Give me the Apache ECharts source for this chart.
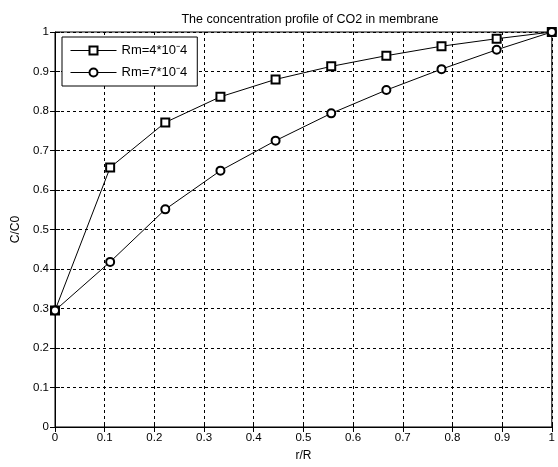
<!DOCTYPE html>
<html>
<head>
<meta charset="utf-8">
<script src="https://cdn.jsdelivr.net/npm/echarts@6/dist/echarts.min.js"></script>
<style>
  html, body { margin: 0; padding: 0; background: #fff; }
  #chart { width: 558px; height: 467px; }
</style>
</head>
<body>
<div id="chart"></div>
<script>
// r/R positions (10 points from 0 to 1)
var rR = [0, 0.111, 0.222, 0.333, 0.444, 0.556, 0.667, 0.778, 0.889, 1];
// C/C0 for each membrane resistance
var rm4 = [0.295, 0.657, 0.771, 0.836, 0.880, 0.913, 0.940, 0.964, 0.983, 1.0];
var rm7 = [0.295, 0.418, 0.551, 0.649, 0.725, 0.794, 0.853, 0.906, 0.955, 1.0];
var seriesNames = ['Rm=4*10\u207B4', 'Rm=7*10\u207B4'];

function pairs(xs, ys) {
    return xs.map(function (x, i) { return [x, ys[i]]; });
}

var font = 'Liberation Sans, Arial, sans-serif';
var chart = echarts.init(document.getElementById('chart'));

var gridLine = { show: true, lineStyle: { color: '#000', type: [3, 3], width: 1 } };
var hiddenAxis = function (opts) {
    return Object.assign({
        type: 'value', min: 0, max: 1, interval: 0.1,
        axisLine: { show: false },
        axisTick: { show: true, inside: true, length: 5, lineStyle: { color: '#000' } },
        axisLabel: { show: false },
        splitLine: { show: false }
    }, opts);
};

chart.setOption({
    animation: false,
    title: {
        text: 'The concentration profile of CO2 in membrane',
        left: 305, top: 8, textAlign: 'center',
        textStyle: { fontFamily: font, fontSize: 12.5, fontWeight: 'normal', color: '#000' }
    },
    legend: {
        orient: 'vertical',
        left: 62, top: 37,
        data: seriesNames,
        backgroundColor: '#fff',
        borderColor: '#000', borderWidth: 1,
        padding: [7, 10, 7, 8],
        itemWidth: 46, itemHeight: 10, itemGap: 9,
        itemStyle: { borderWidth: 1 },
        lineStyle: { width: 1 },
        textStyle: { fontFamily: font, fontSize: 13, color: '#000' }
    },
    grid: {
        left: 55, right: 3, top: 32, bottom: 31,
        show: true, borderColor: '#000', borderWidth: 1
    },
    xAxis: [{
        type: 'value', min: 0, max: 1, interval: 0.1,
        name: 'r/R', nameLocation: 'middle', nameGap: 23,
        nameTextStyle: { fontFamily: font, fontSize: 12, color: '#000' },
        axisLine: { show: true, onZero: false, lineStyle: { color: '#000' } },
        axisTick: { show: true, inside: true, length: 5, lineStyle: { color: '#000' } },
        axisLabel: { fontFamily: font, fontSize: 11.5, color: '#000', margin: 5 },
        splitLine: gridLine
    }, hiddenAxis({ position: 'top' })],
    yAxis: [{
        type: 'value', min: 0, max: 1, interval: 0.1,
        name: 'C/C0', nameLocation: 'middle', nameGap: 32,
        nameTextStyle: { fontFamily: font, fontSize: 12, color: '#000' },
        axisLine: { show: true, onZero: false, lineStyle: { color: '#000' } },
        axisTick: { show: true, inside: true, length: 5, lineStyle: { color: '#000' } },
        axisLabel: { fontFamily: font, fontSize: 11.5, color: '#000', margin: 6 },
        splitLine: gridLine
    }, hiddenAxis({ position: 'right' })],
    series: [{
        name: seriesNames[0],
        type: 'line',
        data: pairs(rR, rm4),
        symbol: 'emptyRect', symbolSize: 8,
        itemStyle: { color: '#000', borderColor: '#000', borderWidth: 1 },
        lineStyle: { color: '#000', width: 1 }
    }, {
        name: seriesNames[1],
        type: 'line',
        data: pairs(rR, rm7),
        symbol: 'emptyCircle', symbolSize: 8,
        itemStyle: { color: '#000', borderColor: '#000', borderWidth: 1 },
        lineStyle: { color: '#000', width: 1 }
    }]
});
</script>
</body>
</html>
